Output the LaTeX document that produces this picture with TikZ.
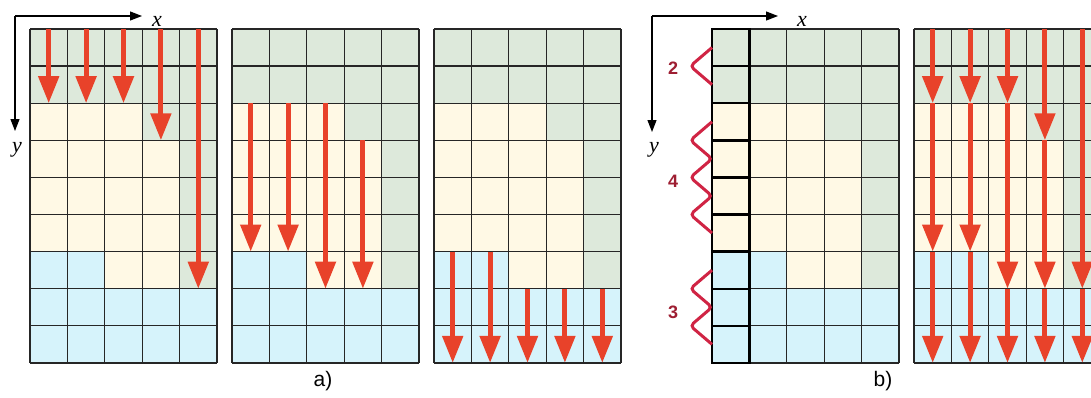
\documentclass[tikz,border=0pt]{standalone}
\usepackage{fontspec}
\setmainfont{Liberation Sans}
\newfontfamily\axisfont{Liberation Serif}
\usepackage{tikz}
\usetikzlibrary{
	arrows.meta,
	positioning
}
\definecolor{CellGreen}{RGB}{221,233,219}
\definecolor{CellCream}{RGB}{255,249,229}
\definecolor{CellBlue}{RGB}{214,243,251}
\definecolor{FlowRed}{RGB}{232,66,42}
\definecolor{ZigRed}{RGB}{208,36,68}
\definecolor{DarkRed}{RGB}{158,30,50}

\begin{document}
\begin{tikzpicture}[x=1pt, y=-1pt,
		gridline/.style={line width=1.3pt, black!85},
		flow/.style={line width=5pt, FlowRed, -{Triangle[width=20pt,length=27pt]}},
		axis/.style={line width=1.2pt, -{Triangle[width=9pt,length=12pt]}},
		zig/.style={line width=3pt, ZigRed, rounded corners=4pt},
		count/.style={DarkRed, font=\fontsize{18}{20}\selectfont\bfseries},
		axlabel/.style={font=\fontsize{22}{24}\selectfont\axisfont\itshape},
		part/.style={font=\fontsize{21}{24}\selectfont}]
	\clip (0,0) rectangle (1091,397);
	% five grids, same three bands in each
	\foreach \gx in {30,232,434,712,914} {
		\begin{scope}[shift={(\gx,29)}, x=37.4pt, y=-37.1pt]
			\foreach \c/\g/\k in {0/2/6,1/2/6,2/2/7,3/3/7,4/7/7} {
				\fill[CellGreen] (\c,0) rectangle (\c+1,\g);
				\fill[CellCream] (\c,\g) rectangle (\c+1,\k);
				\fill[CellBlue] (\c,\k) rectangle (\c+1,9);
			}
			\foreach \c in {0,...,5} \draw[gridline] (\c,0) -- (\c,9);
			\foreach \r in {0,...,9} \draw[gridline] (0,\r) -- (5,\r);
		\end{scope}
	}
	% a) three stages
	\begin{scope}[shift={(30,29)}, x=37.4pt, y=-37.1pt]
		\foreach \c/\ya/\yb in {0/0/2,1/0/2,2/0/2,3/0/3,4/0/7}
			\draw[flow] (\c+0.5,\ya) -- (\c+0.5,\yb);
	\end{scope}
	\begin{scope}[shift={(232,29)}, x=37.4pt, y=-37.1pt]
		\foreach \c/\ya/\yb in {0/2/6,1/2/6,2/2/7,3/3/7}
			\draw[flow] (\c+0.5,\ya) -- (\c+0.5,\yb);
	\end{scope}
	\begin{scope}[shift={(434,29)}, x=37.4pt, y=-37.1pt]
		\foreach \c/\ya/\yb in {0/6/9,1/6/9,2/7/9,3/7/9,4/7/9}
			\draw[flow] (\c+0.5,\ya) -- (\c+0.5,\yb);
	\end{scope}
	% b) band widths and all stages at once
	\begin{scope}[shift={(712,29)}, x=37.4pt, y=-37.1pt]
		\foreach \r in {0,...,8} \draw[line width=2.4pt] (0,\r) rectangle (1,\r+1);
		\draw[zig] (0,0.5) -- (-0.58,1) -- (0,1.5);
		\draw[zig] (0,2.5) \foreach \r in {3.5,4.5,5.5} {-- (-0.58,\r-0.5) -- (0,\r)};
		\draw[zig] (0,6.5) \foreach \r in {7.5,8.5} {-- (-0.58,\r-0.5) -- (0,\r)};
	\end{scope}
	\begin{scope}[shift={(914,29)}, x=37.4pt, y=-37.1pt]
		\foreach \c/\ya/\yb in {0/0/2,0/2/6,0/6/9,1/0/2,1/2/6,1/6/9,2/0/2,2/2/7,2/7/9,
				3/0/3,3/3/7,3/7/9,4/0/7,4/7/9}
			\draw[flow] (\c+0.5,\ya) -- (\c+0.5,\yb);
	\end{scope}
	\node[count] (cnttwo) at (673,68) {2};
	\node[count] (cntfour) at (673,181) {4};
	\node[count] (cntthree) at (673,312) {3};
	% axes
	\coordinate (oa) at (15,16);
	\coordinate (xa) at (142,16);
	\coordinate (ya) at (15,131);
	\draw[axis] (oa) -- (xa);
	\draw[axis] (oa) -- (ya);
	\node[axlabel] (xlaba) at (157,21) {x};
	\node[axlabel] (ylaba) at (17,150) {y};
	\coordinate (ob) at (652,16);
	\coordinate (xb) at (778,16);
	\coordinate (yb) at (652,132);
	\draw[axis] (ob) -- (xb);
	\draw[axis] (ob) -- (yb);
	\node[axlabel] (xlabb) at (802,21) {x};
	\node[axlabel] (ylabb) at (654,150) {y};
	% captions
	\node[part] (capa) at (323,381) {a)};
	\node[part] (capb) at (883,381) {b)};
\end{tikzpicture}
\end{document}
